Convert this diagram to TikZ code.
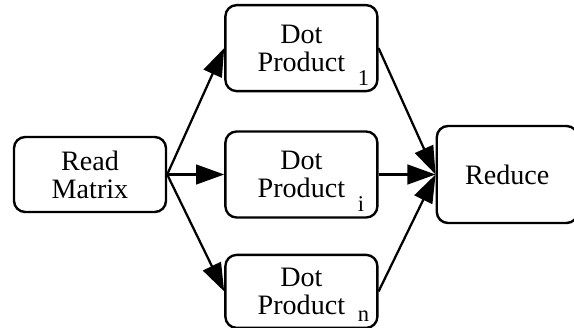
\documentclass[tikz,border=0pt]{standalone}
\usepackage{fontspec}
\setmainfont{Liberation Serif}
\newfontfamily\boxfont{Liberation Serif}
\usetikzlibrary{arrows.meta,positioning}

\newcommand{\dotsub}[2][-10pt]{\rlap{\hspace{9pt}\raisebox{#1}[0pt][0pt]{\fontsize{16}{16}\selectfont #2}}}

\begin{document}
\begin{tikzpicture}[
  node distance=0.95cm and 1.425cm,
  box/.style={draw, line width=1.7pt, rounded corners=8pt, minimum width=3.8cm, minimum height=2.15cm, align=center, font=\boxfont\fontsize{20}{20}\selectfont},
  arrow/.style={-{Triangle[length=20pt,width=14pt]}, line width=1.6pt}
]
\useasboundingbox (0,0) rectangle (14.35,-8.2);
\node[box, minimum height=1.875cm] (read) at (2.25,-4.3625) {Read\\Matrix};
\node[box, right=of read] (doti) {Dot\\Product\dotsub{i}};
\node[box, above=of doti] (dot1) {Dot\\Product\dotsub{1}};
\node[box, minimum height=1.825cm, below=0.875cm of doti] (dotn) {Dot\\Product\dotsub[-5pt]{n}};
\node[box, minimum width=3.525cm, minimum height=2.425cm, right=of doti] (reduce) {Reduce};
\draw[arrow] (read.east) -- (dot1.west);
\draw[arrow] (read.east) -- (doti.west);
\draw[arrow] (read.east) -- (dotn.west);
\draw[arrow] (dot1.east) -- (reduce.west);
\draw[arrow] (doti.east) -- (reduce.west);
\draw[arrow] (dotn.east) -- (reduce.west);
\end{tikzpicture}
\end{document}
